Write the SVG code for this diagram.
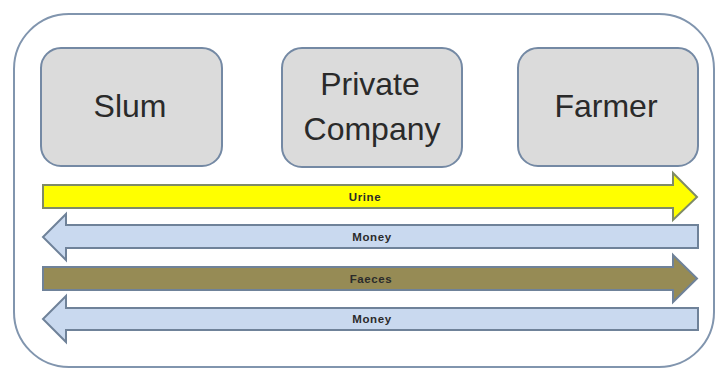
<svg xmlns="http://www.w3.org/2000/svg" width="716" height="370" viewBox="0 0 716 370">
  <style>
    .frame { fill: #ffffff; stroke: #8195AE; stroke-width: 2; }
    .node rect { fill: #DBDBDB; stroke: #7489A4; stroke-width: 2; }
    .node text { font-family: "Liberation Sans", Arial, sans-serif; font-size: 32px; fill: #2a2a2a; text-anchor: middle; }
    .flow { stroke: #6F8299; stroke-width: 2; stroke-linejoin: miter; }
    .urine { fill: #FFFF00; stroke: #7F8B67; }
    .faeces { fill: #968B55; }
    .money { fill: #C9D9EF; }
    .lbl { font-family: "Liberation Sans", Arial, sans-serif; font-size: 11.5px; font-weight: bold; fill: #2b2b2b; text-anchor: middle; letter-spacing: 0.6px; }
  </style>

  <!-- outer container -->
  <rect class="frame" x="14" y="14" width="700" height="353" rx="55" ry="55"/>

  <!-- actors -->
  <g id="slum" class="node">
    <rect x="41" y="48" width="181" height="118" rx="20" ry="20"/>
    <text x="130" y="117">Slum</text>
  </g>
  <g id="private-company" class="node">
    <rect x="282" y="48" width="180" height="119" rx="20" ry="20"/>
    <text x="370" y="95">Private</text>
    <text x="372" y="140">Company</text>
  </g>
  <g id="farmer" class="node">
    <rect x="518" y="48" width="180" height="118" rx="20" ry="20"/>
    <text x="606" y="117">Farmer</text>
  </g>

  <!-- flows between the actors -->
  <g id="connectors">
    <path class="flow urine" d="M43,185 H673 V173 L697,197 L673,220 V208 H43 Z"/>
    <text class="lbl" x="365" y="201">Urine</text>

    <path class="flow money" d="M698,225 H66 V214 L43,237 L66,260 V248 H698 Z"/>
    <text class="lbl" x="372" y="241">Money</text>

    <path class="flow faeces" d="M43,267 H673 V255 L697,278.5 L673,302 V290 H43 Z"/>
    <text class="lbl" x="371" y="283">Faeces</text>

    <path class="flow money" d="M698,308 H66 V296 L43,319 L66,342 V330 H698 Z"/>
    <text class="lbl" x="372" y="323">Money</text>
  </g>
</svg>
